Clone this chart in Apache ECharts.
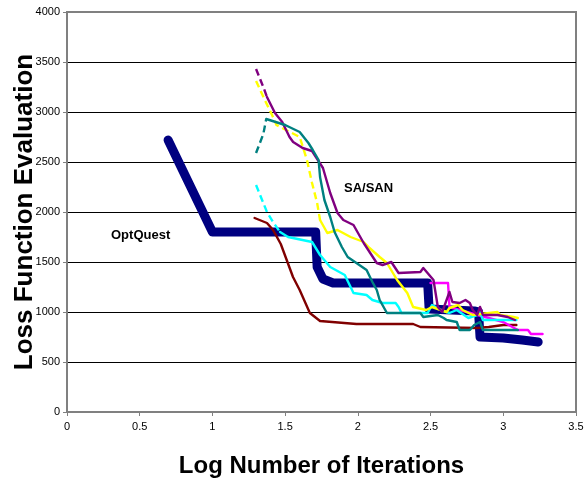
<!DOCTYPE html>
<html>
<head>
<meta charset="utf-8">
<script src="https://cdn.jsdelivr.net/npm/echarts@6/dist/echarts.min.js"></script>
<style>
  body { margin: 0; background: #fff; }
  #chart { width: 586px; height: 482px; }
</style>
</head>
<body>
<div id="chart"></div>
<script>
// [log10(iterations), loss]
const optQuest = [[0.695, 2720], [1.0, 1800], [1.71, 1800], [1.72, 1450], [1.76, 1330], [1.83, 1290],
  [2.48, 1290], [2.49, 1030], [2.8, 1010], [2.83, 1000], [2.84, 750], [3.0, 740], [3.13, 720], [3.24, 700]];
const maroon = [[1.29, 1940], [1.375, 1890], [1.417, 1820], [1.47, 1680], [1.554, 1350], [1.6, 1220],
  [1.67, 990], [1.74, 910], [1.99, 880], [2.38, 880], [2.43, 850], [2.82, 840], [2.9, 850], [3.0, 870], [3.09, 870]];
const magenta = [[2.5, 1290], [2.62, 1290], [2.63, 1050], [2.7, 1020], [2.8, 980], [2.9, 940], [3.0, 900],
  [3.1, 820], [3.17, 820], [3.19, 780], [3.27, 780]];
const cyan = [[1.3, 2270], [1.375, 2000], [1.417, 1900], [1.465, 1800], [1.52, 1750], [1.685, 1700],
  [1.74, 1570], [1.81, 1450], [1.91, 1370], [1.95, 1250], [1.97, 1190], [2.06, 1170], [2.1, 1120],
  [2.17, 1090], [2.26, 1090], [2.28, 1050], [2.3, 990], [2.48, 990], [2.51, 1070], [2.57, 1020],
  [2.63, 990], [2.68, 1020], [2.76, 940], [2.82, 970], [2.84, 1000], [2.86, 920], [3.09, 920]];
const yellow = [[1.3, 3310], [1.36, 3120], [1.41, 2970], [1.44, 2870], [1.6, 2750], [1.65, 2520],
  [1.685, 2290], [1.72, 2090], [1.74, 1920], [1.79, 1790], [1.86, 1820], [1.95, 1750], [2.04, 1700],
  [2.08, 1640], [2.15, 1550], [2.2, 1490], [2.27, 1320], [2.34, 1190], [2.38, 1050], [2.47, 1020],
  [2.51, 1050], [2.61, 1000], [2.63, 1040], [2.69, 1070], [2.72, 1020], [2.79, 970], [2.96, 1000],
  [2.98, 970], [3.07, 950], [3.1, 940]];
const purple = [[1.3, 3430], [1.35, 3250], [1.375, 3150], [1.43, 2990], [1.48, 2900], [1.53, 2750],
  [1.555, 2700], [1.62, 2640], [1.685, 2610], [1.76, 2440], [1.81, 2190], [1.86, 1990], [1.9, 1920],
  [1.97, 1870], [2.04, 1690], [2.13, 1490], [2.17, 1470], [2.23, 1500], [2.28, 1390], [2.43, 1400],
  [2.45, 1440], [2.52, 1320], [2.55, 1050], [2.58, 1000], [2.63, 1200], [2.65, 1100], [2.7, 1090],
  [2.74, 1120], [2.77, 1090], [2.79, 1020], [2.82, 970], [2.84, 1050], [2.86, 970], [2.96, 970],
  [3.03, 950], [3.08, 920]];
const teal = [[1.3, 2590], [1.35, 2780], [1.37, 2930], [1.5, 2870], [1.6, 2800], [1.66, 2690],
  [1.69, 2620], [1.73, 2520], [1.74, 2350], [1.77, 2120], [1.81, 1950], [1.84, 1800], [1.89, 1650],
  [1.93, 1550], [1.99, 1490], [2.06, 1420], [2.1, 1300], [2.13, 1220], [2.15, 1120], [2.2, 990],
  [2.43, 990], [2.45, 950], [2.55, 970], [2.59, 940], [2.61, 920], [2.68, 900], [2.7, 820], [2.77, 820],
  [2.8, 870], [2.84, 900], [2.86, 820], [3.1, 820]];

const yTicks = [0, 500, 1000, 1500, 2000, 2500, 3000, 3500, 4000];
const xTicks = [0, 0.5, 1, 1.5, 2, 2.5, 3, 3.5];

// sparse start of a run looks dashed in the original, so split each run
function line(data, color, width, dashEnd) {
  const out = [];
  if (dashEnd) {
    out.push({
      type: "line", data: data.filter(p => p[0] <= dashEnd), showSymbol: false, silent: true,
      lineStyle: { color: color, width: width, type: [7, 4] }
    });
  }
  out.push({
    type: "line", data: dashEnd ? data.filter(p => p[0] >= dashEnd) : data, showSymbol: false, silent: true,
    lineStyle: { color: color, width: width, cap: "round", join: "round" }
  });
  return out;
}

const myChart = echarts.init(document.getElementById("chart"));
const gridColors = yTicks.map((t, i) => (i === 0 || i === yTicks.length - 1) ? "#808080" : "#000");

myChart.setOption({
  animation: false,
  textStyle: { fontFamily: "Liberation Sans, Arial, sans-serif" },
  grid: {
    left: 67, right: 10, top: 12, bottom: 70, containLabel: false, outerBoundsMode: "none",
    show: true, borderColor: "#808080", borderWidth: 2
  },
  xAxis: {
    type: "value", min: 0, max: 3.5, interval: 0.5,
    name: "Log Number of Iterations", nameLocation: "middle", nameGap: 42,
    nameTextStyle: { fontSize: 24, fontWeight: "bold", color: "#000" },
    axisLine: { lineStyle: { color: "#808080", width: 2 } },
    axisTick: { inside: false, length: 4, lineStyle: { color: "#808080" } },
    axisLabel: { fontSize: 11, color: "#000", margin: 9, formatter: v => xTicks.includes(v) ? String(v) : "" },
    splitLine: { show: false }
  },
  yAxis: {
    type: "value", min: 0, max: 4000, interval: 500,
    name: "Loss Function Evaluation", nameLocation: "middle", nameGap: 29, nameMoveOverlap: false,
    nameTextStyle: { fontSize: 26, fontWeight: "bold", color: "#000" },
    axisLine: { show: true, lineStyle: { color: "#808080", width: 2 } },
    axisTick: { show: true, length: 4, lineStyle: { color: "#808080" } },
    axisLabel: { fontSize: 11, color: "#000", margin: 7, formatter: v => yTicks.includes(v) ? String(v) : "" },
    splitLine: { show: true, lineStyle: { color: gridColors, width: 1 } }
  },
  graphic: [
    { type: "text", left: 111, top: 229, style: { text: "OptQuest", font: "bold 13px Liberation Sans, Arial", fill: "#000" } },
    { type: "text", left: 344, top: 182, style: { text: "SA/SAN", font: "bold 13px Liberation Sans, Arial", fill: "#000" } }
  ],
  series: [].concat(
    line(optQuest, "#000080", 9),
    line(maroon, "#800000", 2.4),
    line(magenta, "#FF00FF", 2.4),
    line(cyan, "#00FFFF", 2.4, 1.465),
    line(yellow, "#FFFF00", 2.4, 1.74),
    line(purple, "#800080", 2.4, 1.375),
    line(teal, "#008080", 2.4, 1.37)
  )
});
window.addEventListener("resize", () => myChart.resize(), false);
</script>
</body>
</html>
